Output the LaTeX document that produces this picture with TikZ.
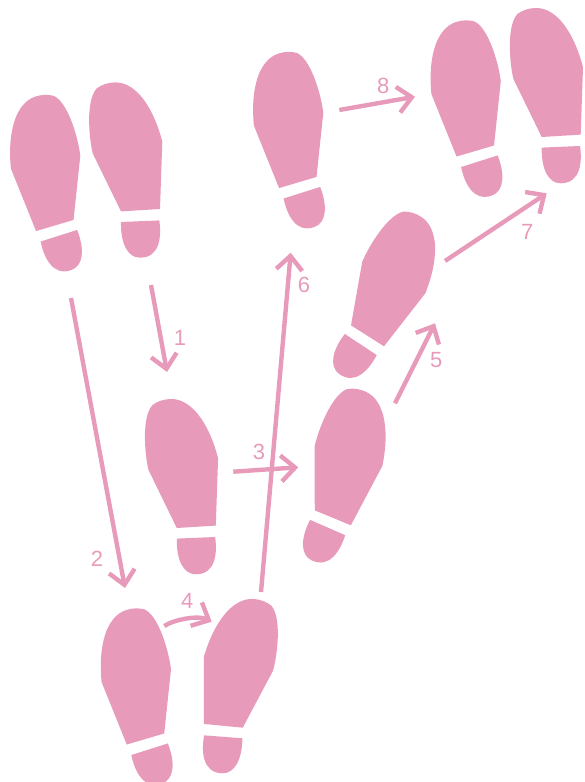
\documentclass[tikz,border=0pt]{standalone}
\usepackage{fontspec}
\setmainfont{Liberation Sans}
\usetikzlibrary{arrows.meta}
\definecolor{rosa}{HTML}{E89ABB}
\tikzset{
  footprint/.pic={
    \fill[rosa] (-19.5,1.2) -- (19.5,-1.2) -- (21.8,-68.5)
      .. controls (17,-87) and (10,-103) .. (-0.5,-115.2)
      .. controls (-7,-122) and (-15,-128) .. (-25.5,-127.8)
      .. controls (-32,-127.8) and (-39,-125.5) .. (-43.8,-121.8)
      .. controls (-50,-115) and (-52,-100) .. (-51.2,-83.5)
      .. controls (-50.8,-72) and (-49,-62) .. (-47.8,-56.8) -- cycle;
    \fill[rosa] (-19.5,11.8) -- (18.8,10.2)
      .. controls (21,25) and (20,47.5) .. (-0.5,47.5)
      .. controls (-13,47.5) and (-20,33) .. cycle;
  },
  steparrow/.style={rosa, line width=4.4pt, -{Straight Barb[length=14pt,width=26pt]}},
  steplabel/.style={text=rosa, font=\fontsize{22}{22}\selectfont, inner sep=0pt}
}
\begin{document}
\begin{tikzpicture}[x=1pt, y=-1pt]
  \useasboundingbox (0,0) rectangle (585,782);
  % left feet (mirrored) and right feet
  \foreach \fx/\fy/\ang/\flip in {54.8/225.5/20/-1, 140.5/210.2/0/1, 196.3/526.8/0/1,
      332.8/517.8/-26/1, 367.5/335.8/-36/1, 145.5/739/20/-1, 223.3/725.8/-2/-1,
      297.8/182.5/20/-1, 475.3/151/20/-1, 561.2/135.8/0/1}{
    \pic[shift={(\fx,\fy)}, rotate=\ang, xscale=\flip] {footprint};}
  % numbered steps
  \foreach \n/\sx/\sy/\ex/\ey/\lx/\ly in {1/151/285/167/372/180/338, 2/71/298/125/588/97/559,
      3/233.3/471.7/298.3/467.3/259/452, 5/395/403.3/435/323.3/436.3/360,
      6/261/592/290.7/252.7/304/285.3, 7/445/261/546.7/193.3/527.3/231.7,
      8/339.3/110/415/96.7/383.3/85.7}{
    \coordinate (start\n) at (\sx,\sy);
    \coordinate (end\n) at (\ex,\ey);
    \draw[steparrow] (start\n) -- (end\n);
    \node[steplabel] (label\n) at (\lx,\ly) {\n};}
  % the short curved one
  \coordinate (start4) at (164.3,626);
  \coordinate (end4) at (211.7,621.7);
  \draw[steparrow] (start4) .. controls (174,619.5) and (198,615) .. (end4);
  \node[steplabel] (label4) at (187.3,600.7) {4};
\end{tikzpicture}
\end{document}
